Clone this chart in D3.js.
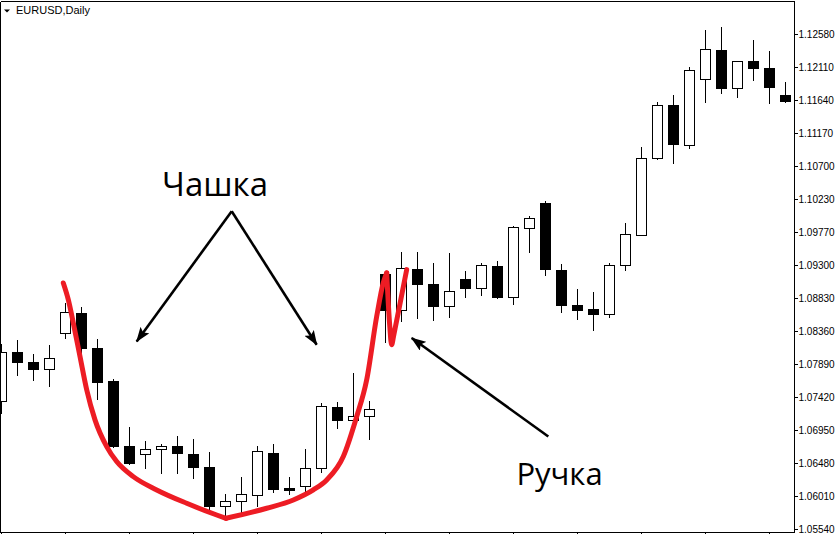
<!DOCTYPE html>
<html><head><meta charset="utf-8">
<script src="https://cdn.jsdelivr.net/npm/d3@7"></script>
<style>html,body{margin:0;padding:0;background:#fff;overflow:hidden}</style>
</head><body>
<svg id="chart" width="837" height="534"></svg>
<script>
// ---- data ----
const symbolTitle = "EURUSD,Daily";
const candleIndex = d3.range(50);
const open  = [1.07359,1.08057,1.07919,1.07809,1.08327,1.08612,1.08114,1.07648,1.06722,1.06604,1.06675,1.06722,1.06608,1.06419,1.05868,1.05935,1.06020,1.06618,1.06124,1.06152,1.06405,1.07273,1.07088,1.07145,1.09172,1.08649,1.09239,1.09025,1.08706,1.09096,1.08963,1.09286,1.08834,1.09823,1.10183,1.09229,1.08726,1.08673,1.08598,1.09290,1.09723,1.10820,1.11575,1.10999,1.11945,1.12358,1.11811,1.12191,1.12102,1.11717];
const high  = [1.08189,1.08246,1.08047,1.08171,1.08763,1.08716,1.08256,1.07686,1.07007,1.06803,1.06765,1.06879,1.06836,1.06651,1.06049,1.06295,1.06732,1.06761,1.06295,1.06694,1.07349,1.07363,1.07772,1.07377,1.09229,1.09499,1.09499,1.09333,1.09475,1.09229,1.09333,1.09371,1.09870,1.10002,1.10212,1.09329,1.08972,1.08930,1.09343,1.09902,1.10985,1.11622,1.11721,1.12120,1.12647,1.12694,1.12206,1.12505,1.12348,1.11906];
const low   = [1.07192,1.07733,1.07662,1.07577,1.08250,1.07966,1.07387,1.06704,1.06460,1.06413,1.06342,1.06333,1.06271,1.05811,1.05701,1.05764,1.05872,1.06071,1.06039,1.06039,1.06356,1.06983,1.06950,1.06818,1.08199,1.08492,1.08541,1.08507,1.08555,1.08834,1.08863,1.08820,1.08740,1.09475,1.09153,1.08621,1.08527,1.08374,1.08555,1.09219,1.09723,1.10800,1.10743,1.10956,1.11612,1.11740,1.11683,1.11925,1.11597,1.11612];
const close = [1.08057,1.07909,1.07809,1.07966,1.08626,1.08108,1.07624,1.06726,1.06484,1.06675,1.06722,1.06618,1.06427,1.05872,1.05935,1.06034,1.06647,1.06114,1.06091,1.06405,1.07288,1.07088,1.07154,1.07245,1.08649,1.09253,1.09025,1.08706,1.08930,1.08963,1.09296,1.08834,1.09837,1.09965,1.09233,1.08720,1.08655,1.08598,1.09300,1.09737,1.10820,1.11575,1.11013,1.12063,1.12372,1.11811,1.12191,1.12096,1.11825,1.11626];
const priceTicks = ["1.12580","1.12110","1.11640","1.11170","1.10700","1.10230","1.09770","1.09300","1.08830","1.08360","1.07890","1.07420","1.06950","1.06480","1.06010","1.05540"];
const timeTickIndex = [0,4,8,12,16,20,24,28,32,36,40,44,48];
// annotation: cup curve (index, price)
const cupLeftIdx   = [3.894,4.206,4.519,4.938,5.356,5.875,6.606,7.231,8.269,9.731,11.606,13.481,14.0625];
const cupLeftPrice = [1.09039,1.08802,1.08470,1.07994,1.07520,1.07092,1.06712,1.06499,1.06285,1.06096,1.05906,1.05739,1.05692];
const cupRightIdx   = [14.0625,16.606,18.269,19.519,20.356,21.394,22.231,22.856,23.481,23.894,24.106];
const cupRightPrice = [1.05692,1.05835,1.05953,1.06096,1.06238,1.06570,1.07139,1.07662,1.08564,1.09044,1.09182];
const handleIdx   = [24.106,24.30,24.419,24.55,25.356];
const handlePrice = [1.09182,1.08420,1.08161,1.08300,1.09229];
const labelText  = ["Чашка","Ручка"];
const labelIdx   = [13.375,34.906];
const labelPrice = [1.10273,1.06167];
const labelSize  = [33,31];
// arrows: [fromIdx, fromPrice, toIdx, toPrice]
const arrowFromIdx   = [14.419,14.419,34.206];
const arrowFromPrice = [1.10059,1.10059,1.06855];
const arrowToIdx     = [8.481,19.731,25.669];
const arrowToPrice   = [1.08208,1.08161,1.08256];

// ---- layout ----
const W = 837, H = 534;
const plotLeft = 0.5, plotRight = 794.5, plotTop = 1.5, plotBottom = 532.5;
const svg = d3.select("#chart");
const x = d3.scaleLinear().domain([0, 49]).range([1, 1 + 16 * 49]);
const y = d3.scaleLinear().domain([1.0554, 1.1258]).range([529, 34]);
const col = i => Math.round(x(i)) + 0.5;
const py = v => Math.round(y(v)) + 0.5;

svg.append("rect").attr("width", W).attr("height", H).attr("fill", "#fff");

svg.append("defs").append("clipPath").attr("id", "plotClip")
  .append("rect").attr("x", 1).attr("y", 2).attr("width", 793).attr("height", 530);

const plot = svg.append("g").attr("clip-path", "url(#plotClip)");

// candles
const candles = candleIndex.map(i => ({i, o: open[i], h: high[i], l: low[i], c: close[i]}));
const g = plot.selectAll("g.candle").data(candles).join("g").attr("class", "candle");
g.append("line")
  .attr("x1", d => col(d.i)).attr("x2", d => col(d.i))
  .attr("y1", d => py(d.h)).attr("y2", d => py(d.l))
  .attr("stroke", "#000").attr("stroke-width", 1).attr("shape-rendering", "crispEdges");
g.append("rect")
  .attr("x", d => col(d.i) - 5)
  .attr("width", 10)
  .attr("y", d => py(Math.max(d.o, d.c)))
  .attr("height", d => Math.max(1, py(Math.min(d.o, d.c)) - py(Math.max(d.o, d.c))))
  .attr("fill", d => d.c >= d.o ? "#fff" : "#000")
  .attr("stroke", "#000").attr("stroke-width", 1).attr("shape-rendering", "crispEdges");

// red cup & handle
const red = "#ED1C24";
const lineGen = d3.line().x(d => x(d[0])).y(d => y(d[1]));
plot.append("path")
  .attr("d", lineGen.curve(d3.curveMonotoneX)(cupLeftIdx.map((v, k) => [v, cupLeftPrice[k]])))
  .attr("fill", "none").attr("stroke", red).attr("stroke-width", 5).attr("stroke-linecap", "round").attr("stroke-linejoin", "round");
plot.append("path")
  .attr("d", lineGen.curve(d3.curveMonotoneX)(cupRightIdx.map((v, k) => [v, cupRightPrice[k]])))
  .attr("fill", "none").attr("stroke", red).attr("stroke-width", 5).attr("stroke-linecap", "round").attr("stroke-linejoin", "round");
plot.append("path")
  .attr("d", lineGen.curve(d3.curveCatmullRom.alpha(0.5))(handleIdx.map((v, k) => [v, handlePrice[k]])))
  .attr("fill", "none").attr("stroke", red).attr("stroke-width", 5).attr("stroke-linecap", "round").attr("stroke-linejoin", "round");

// arrows
const defs = svg.select("defs");
defs.append("marker").attr("id", "arrowHead")
  .attr("viewBox", "0 0 15 11").attr("refX", 14).attr("refY", 5.5)
  .attr("markerWidth", 15).attr("markerHeight", 11).attr("markerUnits", "userSpaceOnUse")
  .attr("orient", "auto")
  .append("path").attr("d", "M0,0 L15,5.5 L0,11 L3,5.5 Z").attr("fill", "#000");
arrowFromIdx.forEach((fi, k) => {
  plot.append("line")
    .attr("x1", x(fi)).attr("y1", y(arrowFromPrice[k]))
    .attr("x2", x(arrowToIdx[k])).attr("y2", y(arrowToPrice[k]))
    .attr("stroke", "#000").attr("stroke-width", 2.6)
    .attr("marker-end", "url(#arrowHead)");
});

// labels
labelText.forEach((t, k) => {
  plot.append("text")
    .attr("x", x(labelIdx[k])).attr("y", y(labelPrice[k]))
    .attr("text-anchor", "middle")
    .attr("font-family", "'Open Sans', 'Noto Sans', sans-serif")
    .attr("font-size", labelSize[k]).attr("fill", "#000")
    .text(t);
});

// frame
const frame = svg.append("g").attr("stroke", "#000").attr("stroke-width", 1).attr("shape-rendering", "crispEdges");
frame.append("line").attr("x1", plotLeft).attr("x2", plotRight).attr("y1", plotTop).attr("y2", plotTop);
frame.append("line").attr("x1", plotLeft).attr("x2", plotLeft).attr("y1", plotTop).attr("y2", plotBottom);
frame.append("line").attr("x1", plotRight).attr("x2", plotRight).attr("y1", plotTop).attr("y2", plotBottom);
frame.append("line").attr("x1", plotLeft).attr("x2", plotRight).attr("y1", plotBottom).attr("y2", plotBottom);

// right price axis
const yAxisG = svg.append("g");
priceTicks.forEach(t => {
  const v = +t;
  yAxisG.append("line").attr("x1", plotRight).attr("x2", plotRight + 3)
    .attr("y1", py(v)).attr("y2", py(v)).attr("stroke", "#000").attr("shape-rendering", "crispEdges");
  yAxisG.append("text").attr("x", 798.5).attr("y", py(v) + 3.5)
    .attr("font-family", "'Liberation Sans', Arial, sans-serif").attr("font-size", 10).attr("fill", "#000")
    .text(t);
});

// bottom time ticks
svg.append("g").selectAll("line").data(timeTickIndex).join("line")
  .attr("x1", d => col(d)).attr("x2", d => col(d))
  .attr("y1", plotBottom).attr("y2", plotBottom + 3)
  .attr("stroke", "#000").attr("shape-rendering", "crispEdges");

// title
svg.append("path").attr("d", "M4,9.5 L10,9.5 L7,12.5 Z").attr("fill", "#000");
svg.append("text").attr("x", 16).attr("y", 14)
  .attr("font-family", "'Liberation Sans', Arial, sans-serif").attr("font-size", 11).attr("fill", "#000")
  .text(symbolTitle);
</script>
</body></html>
